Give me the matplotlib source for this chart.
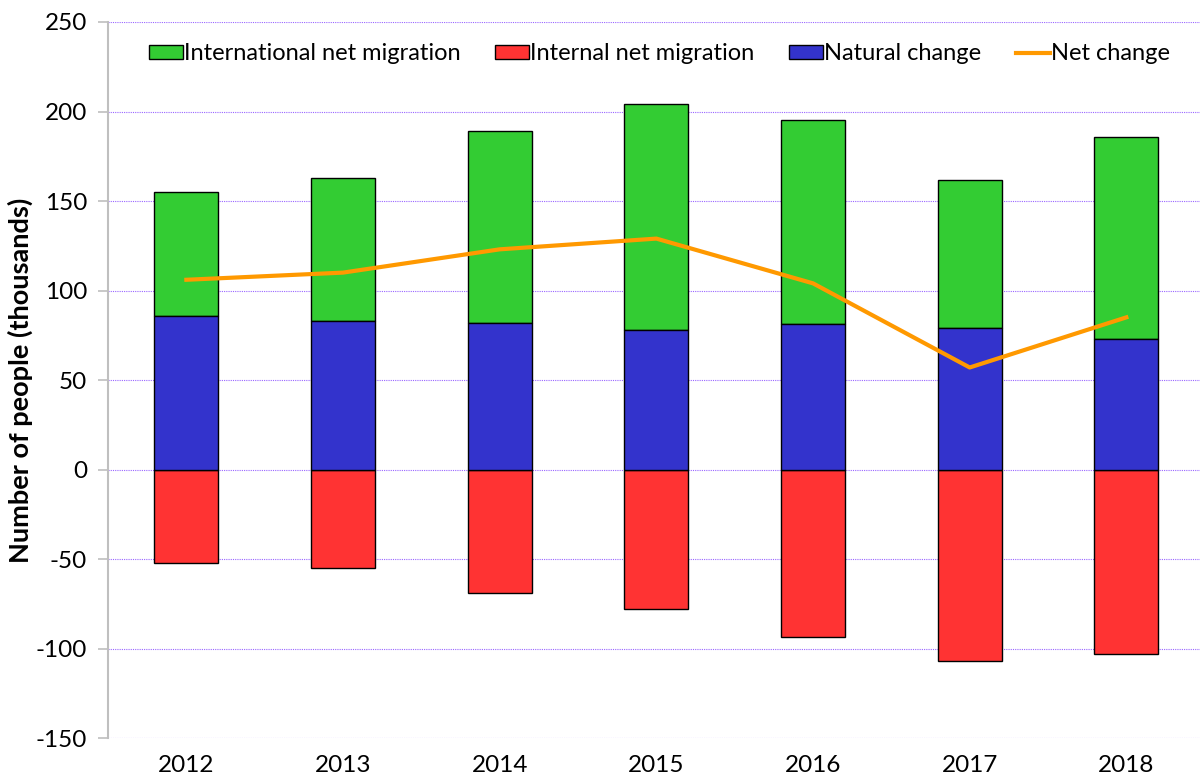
import numpy as np
import matplotlib
matplotlib.use('Agg')
import matplotlib.pyplot as plt

plt.rcParams['font.family'] = ['Lato', 'DejaVu Sans']

## DATA (thousands of people)
years = ['2012', '2013', '2014', '2015', '2016', '2017', '2018']
natural = [86, 83, 82, 78, 81.5, 79, 73]
international = [69, 80, 107, 126, 114, 83, 113]
internal = [-52, -55, -69, -78, -93.5, -107, -103]
net_change = [106, 110, 123, 129, 104, 57, 85]

fig = plt.figure(figsize=(12.03, 7.8), dpi=100)
ax = fig.add_axes([0.0898, 0.0538, 0.9077, 0.918])

x = np.arange(len(years))
w = 0.41
b1 = ax.bar(x, international, w, bottom=natural, color='#33cc33', edgecolor='black',
            linewidth=1, label='International net migration', zorder=3)
b2 = ax.bar(x, internal, w, color='#ff3333', edgecolor='black', linewidth=1,
            label='Internal net migration', zorder=3)
b3 = ax.bar(x, natural, w, color='#3333cc', edgecolor='black', linewidth=1,
            label='Natural change', zorder=3)
l1, = ax.plot(x, net_change, color='#ff9900', linewidth=3, label='Net change', zorder=4)

ax.set_xlim(-0.5, 6.47)
ax.set_ylim(-150, 250)
ax.set_yticks(np.arange(-150, 251, 50))
ax.set_yticklabels([str(v) for v in range(-150, 251, 50)])
ax.set_xticks(x)
ax.set_xticklabels(years)
ax.grid(axis='y', color='#9966ff', linestyle=(0, (1, 1)), linewidth=0.8, zorder=0)

for s in ['top', 'right', 'bottom']:
    ax.spines[s].set_visible(False)
ax.spines['left'].set_color('#bfbfbf')
ax.spines['left'].set_linewidth(1.5)
ax.tick_params(axis='y', length=7, width=1.2, color='#bfbfbf', labelsize=17.5, pad=8)
ax.tick_params(axis='x', length=0, labelsize=17.5, pad=12)

ax.set_ylabel('Number of people (thousands)', fontsize=19.5, fontweight='bold', labelpad=2)

ax.legend([b1, b2, b3, l1],
          ['International net migration', 'Internal net migration',
           'Natural change', 'Net change'],
          loc='upper center', ncol=4, frameon=False, fontsize=17,
          bbox_to_anchor=(0.505, 1.0), handlelength=1.45, handleheight=0.5,
          handletextpad=0.05, columnspacing=1.45)

fig.savefig('out.png', dpi=100)
